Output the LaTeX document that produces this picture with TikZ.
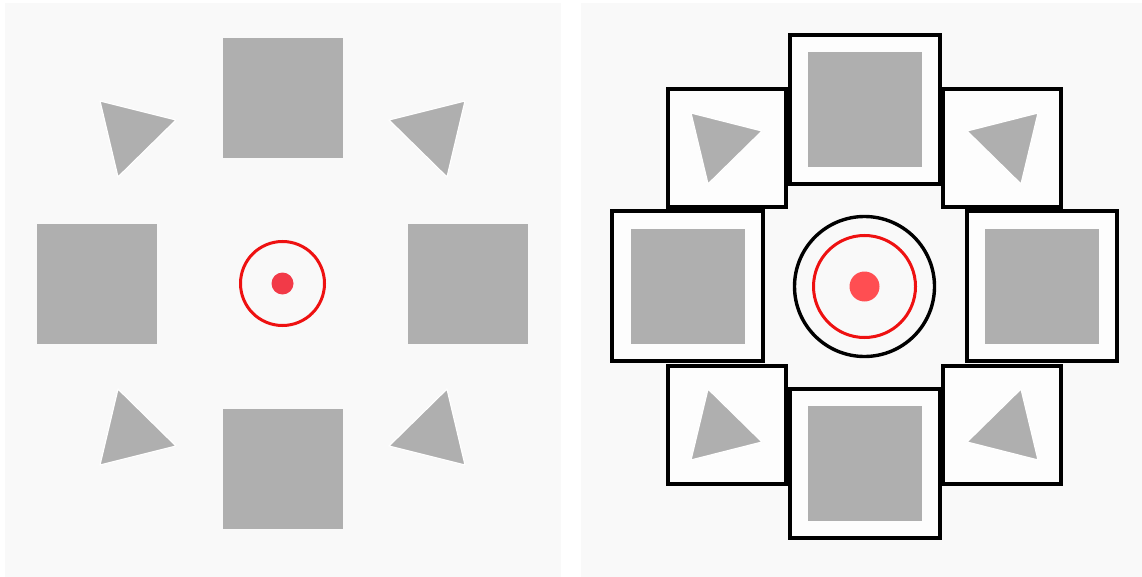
\documentclass[tikz,border=0pt]{standalone}
\definecolor{bgc}{HTML}{F9F9F9}
\definecolor{shapegray}{HTML}{AFAFAF}
\definecolor{ringred}{HTML}{EE1111}
\definecolor{dotred}{HTML}{F23A48}
\definecolor{dotred2}{HTML}{FF4E52}
\tikzset{
  panel/.style={fill=bgc, draw=none},
  gsq/.style={fill=shapegray, draw=none},
  tri/.style={fill=shapegray, draw=white, line width=1.2, line join=round},
  frame/.style={fill=bgc!40!white, draw=black, line width=3.6},
  ring/.style={draw=ringred, line width=3},
  bring/.style={draw=black, line width=3.4},
}
\begin{document}
\begin{tikzpicture}[x=1pt,y=-1pt]
\useasboundingbox (0,0) rectangle (1142,577);
\fill[white] (0,0) rectangle (1142,577);
% panels
\path[panel] (5,3) rectangle (561,577);
\path[panel] (581,3) rectangle (1142,577);

% ---------- left panel ----------
\path[gsq] (223,38) rectangle (343,158);
\path[gsq] (223,409) rectangle (343,529);
\path[gsq] (37,224) rectangle (157,344);
\path[gsq] (408,224) rectangle (528,344);
\path[tri] (100,101) -- (176,120) -- (118,177) -- cycle;
\path[tri] (465,101) -- (389,120) -- (447,177) -- cycle;
\path[tri] (100,465) -- (176,446) -- (118,389) -- cycle;
\path[tri] (465,465) -- (389,446) -- (447,389) -- cycle;
\node[circle, ring, minimum size=84, inner sep=0] (lring) at (282.5,283.5) {};
\node[circle, fill=dotred, minimum size=22, inner sep=0] (ldot) at (lring.center) {};

% ---------- right panel ----------
% small frames
\draw[frame] (668,89) rectangle (786,207);
\draw[frame] (943,89) rectangle (1061,207);
\draw[frame] (668,366) rectangle (786,484);
\draw[frame] (943,366) rectangle (1061,484);
% big frames
\draw[frame] (790,35) rectangle (940,184);
\draw[frame] (790,389) rectangle (940,538);
\draw[frame] (612,211) rectangle (763,361);
\draw[frame] (967,211) rectangle (1117,361);
% inner gray squares
\path[gsq] (808,52) rectangle (922,167);
\path[gsq] (808,406) rectangle (922,521);
\path[gsq] (631,229) rectangle (745,344);
\path[gsq] (985,229) rectangle (1099,344);
% triangles
\path[tri] (691,113) -- (762,131) -- (708,184) -- cycle;
\path[tri] (1038,113) -- (967,131) -- (1021,184) -- cycle;
\path[tri] (691,460) -- (762,442) -- (708,389) -- cycle;
\path[tri] (1038,460) -- (967,442) -- (1021,389) -- cycle;
% centre target
\node[circle, bring, minimum size=140, inner sep=0] (rbring) at (864.5,286.5) {};
\node[circle, ring, minimum size=102, inner sep=0] (rring) at (rbring.center) {};
\node[circle, fill=dotred2, minimum size=30, inner sep=0] (rdot) at (rbring.center) {};
\end{tikzpicture}
\end{document}
